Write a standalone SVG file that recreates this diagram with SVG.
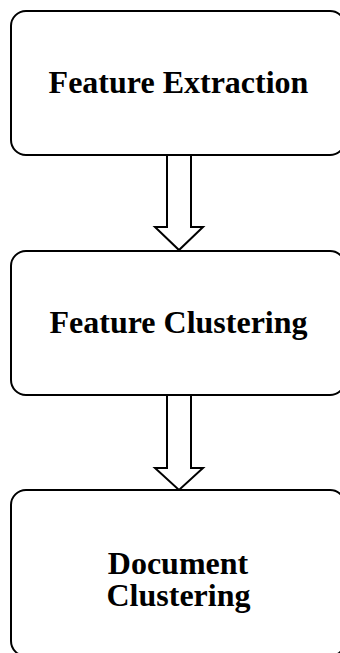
<svg xmlns="http://www.w3.org/2000/svg" width="340" height="653" viewBox="0 0 340 653">
<style>
.box{fill:#fff;stroke:#000;stroke-width:2}
.arr{fill:#fff;stroke:#000;stroke-width:2;stroke-linejoin:miter}
.lbl{font-family:"Liberation Serif","Times New Roman",serif;font-weight:bold;font-size:32px;fill:#000;text-anchor:middle}
</style>
<rect width="340" height="653" fill="#fff"/>
<g id="connectors">
<polygon class="arr" points="167,155 191,155 191,227 203,227 179,250 155,227 167,227"/>
<polygon class="arr" points="167,395 191,395 191,468 203,468 179,490 155,468 167,468"/>
</g>
<g id="node-feature-extraction">
<rect class="box" x="11" y="11" width="334" height="144" rx="15" ry="15"/>
<text class="lbl" x="178.5" y="93">Feature Extraction</text>
</g>
<g id="node-feature-clustering">
<rect class="box" x="11" y="251" width="334" height="144" rx="15" ry="15"/>
<text class="lbl" x="178.5" y="333">Feature Clustering</text>
</g>
<g id="node-document-clustering">
<rect class="box" x="11" y="490" width="334" height="166" rx="15" ry="15"/>
<text class="lbl" x="178" y="574"><tspan x="178" y="574">Document</tspan><tspan x="178.5" y="606">Clustering</tspan></text>
</g>
</svg>
